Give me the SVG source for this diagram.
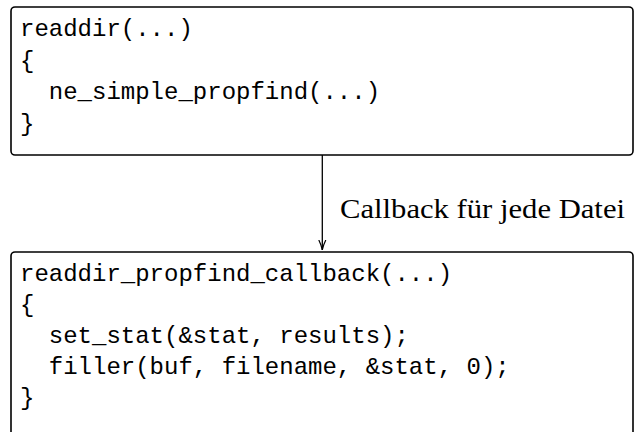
<svg xmlns="http://www.w3.org/2000/svg" width="635" height="432" viewBox="0 0 635 432">
<defs>
<style>
.box{fill:#fff;stroke:#000;stroke-width:1.6}
.code{font-family:"Liberation Mono","DejaVu Sans Mono",monospace;font-size:24px;fill:#000}
.lbl{font-family:"Liberation Serif","DejaVu Serif",serif;font-size:27px;fill:#000}
.edge{stroke:#000;stroke-width:1.3;fill:none}
</style>
<marker id="arr" viewBox="0 0 10 10" refX="10" refY="5" markerWidth="10" markerHeight="10" markerUnits="userSpaceOnUse" orient="auto">
<path d="M0,1.5 Q5,4 10,5 Q5,6 0,8.5" fill="none" stroke="#000" stroke-width="1.2"/>
</marker>
</defs>
<rect width="635" height="432" fill="#fff"/>
<g id="readdir">
<rect class="box" x="11" y="7" width="622" height="148" rx="4"/>
<text class="code" x="20" y="36">readdir(...)</text>
<text class="code" x="20" y="67.5">{</text>
<text class="code" x="20" y="99" xml:space="preserve">  ne_simple_propfind(...)</text>
<text class="code" x="20" y="130.5">}</text>
</g>
<g id="callback">
<rect class="box" x="11" y="252" width="622" height="190" rx="4"/>
<text class="code" x="20" y="281">readdir_propfind_callback(...)</text>
<text class="code" x="20" y="312">{</text>
<text class="code" x="20" y="343" xml:space="preserve">  set_stat(&amp;stat, results);</text>
<text class="code" x="20" y="374" xml:space="preserve">  filler(buf, filename, &amp;stat, 0);</text>
<text class="code" x="20" y="405">}</text>
</g>
<g id="connectors">
<line class="edge" x1="322.3" y1="155" x2="322.3" y2="250" marker-end="url(#arr)"/>
<text class="lbl" x="340" y="218" textLength="285" lengthAdjust="spacingAndGlyphs">Callback für jede Datei</text>
</g>
</svg>
